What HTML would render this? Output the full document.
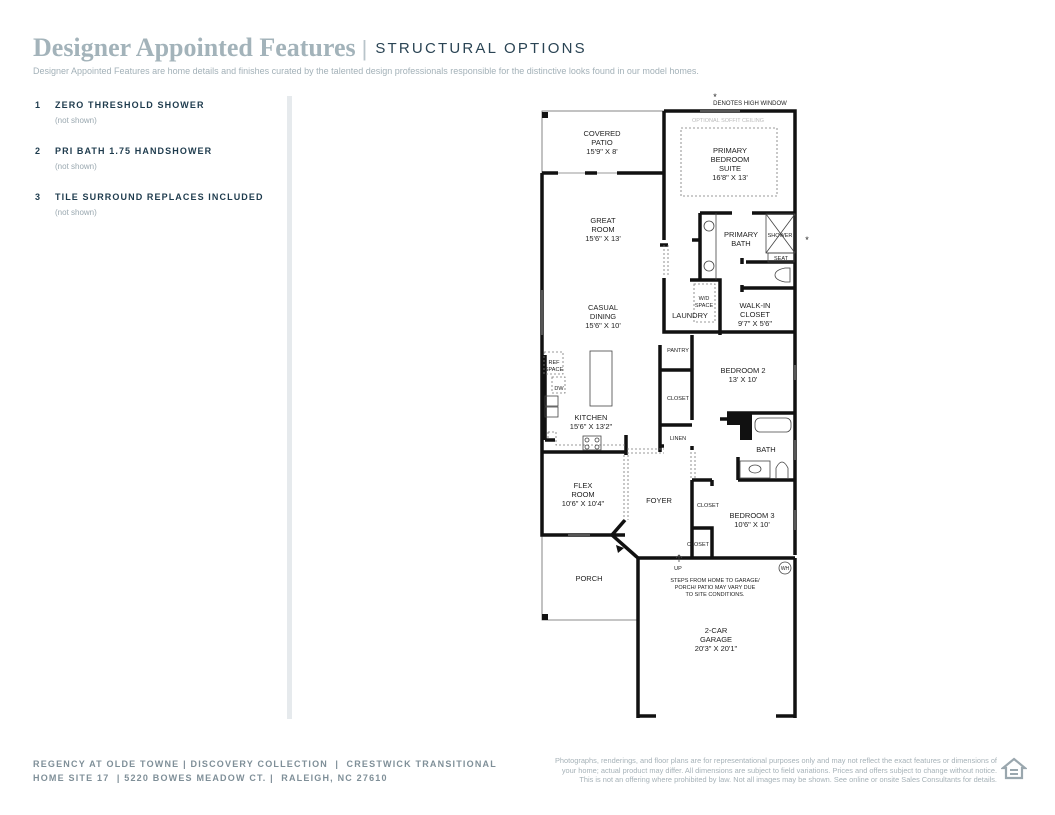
<!DOCTYPE html>
<html><head><meta charset="utf-8"><style>
body{margin:0;width:1055px;height:815px;background:#fff;position:relative;overflow:hidden;font-family:"Liberation Sans",sans-serif}
.t{position:absolute;white-space:nowrap}
.h{left:33px;top:33px;font-family:"Liberation Serif",serif;font-size:26px;font-weight:bold;color:#a3b3ba}
.so{font-family:"Liberation Sans",sans-serif;font-size:15px;font-weight:normal;letter-spacing:2.2px;color:#2a4454;vertical-align:3px}
.bar{font-family:"Liberation Sans",sans-serif;font-size:22px;color:#b8c4ca;margin:0 8px 0 6px;font-weight:normal}
.sub{left:33px;top:66px;font-size:9px;color:#a3b1b8}
.it{left:35px;font-size:9px;font-weight:bold;letter-spacing:1.1px;color:#1e3b4d}
.it b{display:inline-block;width:20px}
.ns{left:55px;font-size:8px;color:#9aa8b0}
.f1{left:33px;font-size:9px;letter-spacing:1.2px;color:#7f8f98;font-weight:bold}
.f2{right:58px;font-size:7.4px;color:#a6b2b8;text-align:right;line-height:9.5px;top:756px}
</style></head><body>
<div class="t h">Designer Appointed Features<span class="bar">|</span><span class="so">STRUCTURAL OPTIONS</span></div>
<div class="t sub">Designer Appointed Features are home details and finishes curated by the talented design professionals responsible for the distinctive looks found in our model homes.</div>
<div class="t it" style="top:100px"><b>1</b>ZERO THRESHOLD SHOWER</div>
<div class="t ns" style="top:116px">(not shown)</div>
<div class="t it" style="top:146px"><b>2</b>PRI BATH 1.75 HANDSHOWER</div>
<div class="t ns" style="top:162px">(not shown)</div>
<div class="t it" style="top:192px"><b>3</b>TILE SURROUND REPLACES INCLUDED</div>
<div class="t ns" style="top:208px">(not shown)</div>
<div style="position:absolute;left:287px;top:96px;width:5px;height:623px;background:#e6eaed"></div>
<div class="t f1" style="top:759px">REGENCY AT OLDE TOWNE | DISCOVERY COLLECTION &nbsp;| &nbsp;CRESTWICK TRANSITIONAL</div>
<div class="t f1" style="top:773px">HOME SITE 17 &nbsp;| 5220 BOWES MEADOW CT. | &nbsp;RALEIGH, NC 27610</div>
<div class="t f2">Photographs, renderings, and floor plans are for representational purposes only and may not reflect the exact features or dimensions of<br>your home; actual product may differ. All dimensions are subject to field variations. Prices and offers subject to change without notice.<br>This is not an offering where prohibited by law. Not all images may be shown. See online or onsite Sales Consultants for details.</div>
<svg style="position:absolute;left:1001px;top:757px" width="26" height="26"><path d="M13 2 L24 11 L21 11 L21 21 L5 21 L5 11 L2 11Z" fill="none" stroke="#9aa7ae" stroke-width="2.2"/><rect x="9" y="12" width="8" height="2" fill="#9aa7ae"/><rect x="9" y="16" width="8" height="2" fill="#9aa7ae"/></svg>

<svg style="position:absolute;left:0;top:0" width="1055" height="815" font-family="Liberation Sans,sans-serif" font-size="7.5" text-anchor="middle" fill="#111">
<g stroke="#111" fill="none">
<rect x="542" y="111" width="122" height="62" stroke-width="0.8" stroke="#666"/>
<path d="M542 535 V620 H638" stroke-width="0.8" stroke="#666"/>
<g stroke-width="3.5">
<path d="M664 111 H795 V335"/>
<path d="M664 111 V240 M664 278 V332 H795"/>
<path d="M542 173 V535 H625"/>
<path d="M542 173 H558 M585 173 H597 M617 173 H664"/>
<path d="M700 213 H732 M752 213 H795 M700 213 V280 M690 280 H720 V335"/>
<path d="M660 245 H668 M692 240 H700"/>
<path d="M746 262 H795 M742 288 H795 M742 258 V264 M742 285 V292"/>
<path d="M795 335 V555 M692 335 V420 M660 345 V452 M660 370 H692 M660 425 H692 M660 446 H664 M692 446 V450"/>
<path d="M720 419 H735 M727 413 H795 M738 480 H795 M738 457 V480"/>
<path d="M692 480 V558 M692 480 H712 M712 480 V486 M692 528 H712 V558"/>
<path d="M542 452 H625 M626 435 V455"/>
<path d="M638 558 H795 M638 558 V718 M795 558 V718 M638 716 H656 M776 716 H795"/>
<path d="M625 520 L612 535 L638 558"/>
<path d="M545 355 V440 M545 440 H555"/>
</g>
<rect x="727" y="413" width="25" height="12" fill="#111" stroke="none"/>
<rect x="740" y="413" width="12" height="27" fill="#111" stroke="none"/>
<rect x="542" y="112" width="6" height="6" fill="#111" stroke="none"/>
<rect x="542" y="614" width="6" height="6" fill="#111" stroke="none"/>
<path d="M616 545 L624 548 L618 553Z" fill="#111" stroke="none"/>
<g stroke="#999" stroke-width="1"><path d="M558 173 H585 M597 173 H617 M700 111 H740 M568 535 H590 M795 365 V380 M795 440 V460 M795 510 V530 M542 290 V335"/></g>
<g stroke="#777" stroke-width="0.8" stroke-dasharray="2,2">
<rect x="681" y="128" width="96" height="68"/>
<rect x="694" y="284" width="21" height="38"/>
<path d="M664 245 V275 M668 245 V275"/>
<path d="M624 455 V520 M628 455 V520 M627 449 H664 M627 453 H664 M691 452 V478 M695 452 V478"/>
<rect x="544" y="352" width="19" height="22"/>
<rect x="552" y="377" width="13" height="16"/>
<path d="M548 432 H556 V445 H625 M548 432 V440"/>
</g>
<g stroke="#444" stroke-width="0.8">
<rect x="590" y="351" width="22" height="55"/>
<path d="M716 213 V280"/>
<circle cx="709" cy="226" r="5"/><circle cx="709" cy="266" r="5"/>
<rect x="766" y="214" width="29" height="39"/><path d="M766 214 L795 253 M795 214 L766 253"/>
<rect x="768" y="253" width="26" height="9"/>
<path d="M790 268 H785 Q775 270 775 275 Q775 280 785 282 H790 Z"/>
<rect x="545" y="396" width="13" height="10"/><rect x="545" y="407" width="13" height="10"/>
<rect x="583" y="436" width="18" height="14"/>
<circle cx="587" cy="440" r="2"/><circle cx="597" cy="440" r="2"/><circle cx="587" cy="447" r="2"/><circle cx="597" cy="447" r="2"/>
<rect x="755" y="418" width="36" height="14" rx="5"/>
<rect x="740" y="461" width="30" height="17"/><ellipse cx="755" cy="469" rx="6" ry="4"/>
<path d="M776 478 V468 Q782 456 788 468 V478"/>
<circle cx="785" cy="568" r="6"/>
<path d="M679 562 V555 M676 558 L679 555 L682 558"/>
</g>
</g>
<g fill="#222">
<text x="750" y="105" font-size="6">DENOTES HIGH WINDOW</text>
<text x="715" y="100" font-size="9">*</text>
<text x="807" y="243" font-size="9">*</text>
<text x="728" y="122" font-size="5.5" fill="#bbb">OPTIONAL SOFFIT CEILING</text>
<text x="602" y="136">COVERED</text><text x="602" y="145">PATIO</text><text x="602" y="154">15'9" X 8'</text>
<text x="730" y="153">PRIMARY</text><text x="730" y="162">BEDROOM</text><text x="730" y="171">SUITE</text><text x="730" y="180">16'8" X 13'</text>
<text x="603" y="223">GREAT</text><text x="603" y="232">ROOM</text><text x="603" y="241">15'6" X 13'</text>
<text x="741" y="237">PRIMARY</text><text x="741" y="246">BATH</text>
<text x="780" y="237" font-size="5.5">SHOWER</text><text x="781" y="260" font-size="5.5">SEAT</text>
<text x="704" y="300" font-size="5.5">W/D</text><text x="704" y="307" font-size="5.5">SPACE</text>
<text x="690" y="318">LAUNDRY</text>
<text x="755" y="308">WALK-IN</text><text x="755" y="317">CLOSET</text><text x="755" y="326">9'7" X 5'6"</text>
<text x="603" y="310">CASUAL</text><text x="603" y="319">DINING</text><text x="603" y="328">15'6" X 10'</text>
<text x="678" y="352" font-size="5.5">PANTRY</text>
<text x="743" y="373">BEDROOM 2</text><text x="743" y="382">13' X 10'</text>
<text x="678" y="400" font-size="5.5">CLOSET</text>
<text x="678" y="440" font-size="5.5">LINEN</text>
<text x="554" y="364" font-size="5.5">REF</text><text x="554" y="371" font-size="5.5">SPACE</text>
<text x="559" y="390" font-size="5.5">DW</text>
<text x="591" y="420">KITCHEN</text><text x="591" y="429">15'6" X 13'2"</text>
<text x="766" y="452">BATH</text>
<text x="583" y="488">FLEX</text><text x="583" y="497">ROOM</text><text x="583" y="506">10'6" X 10'4"</text>
<text x="659" y="503">FOYER</text>
<text x="708" y="507" font-size="5.5">CLOSET</text>
<text x="752" y="518">BEDROOM 3</text><text x="752" y="527">10'6" X 10'</text>
<text x="698" y="546" font-size="5.5">CLOSET</text>
<text x="678" y="570" font-size="5.5">UP</text>
<text x="785" y="570" font-size="5">WH</text>
<text x="589" y="581">PORCH</text>
<text x="715" y="582" font-size="5.5">STEPS FROM HOME TO GARAGE/</text>
<text x="715" y="589" font-size="5.5">PORCH/ PATIO MAY VARY DUE</text>
<text x="715" y="596" font-size="5.5">TO SITE CONDITIONS.</text>
<text x="716" y="633">2-CAR</text><text x="716" y="642">GARAGE</text><text x="716" y="651">20'3" X 20'1"</text>
</g>
</svg>
</body></html>
